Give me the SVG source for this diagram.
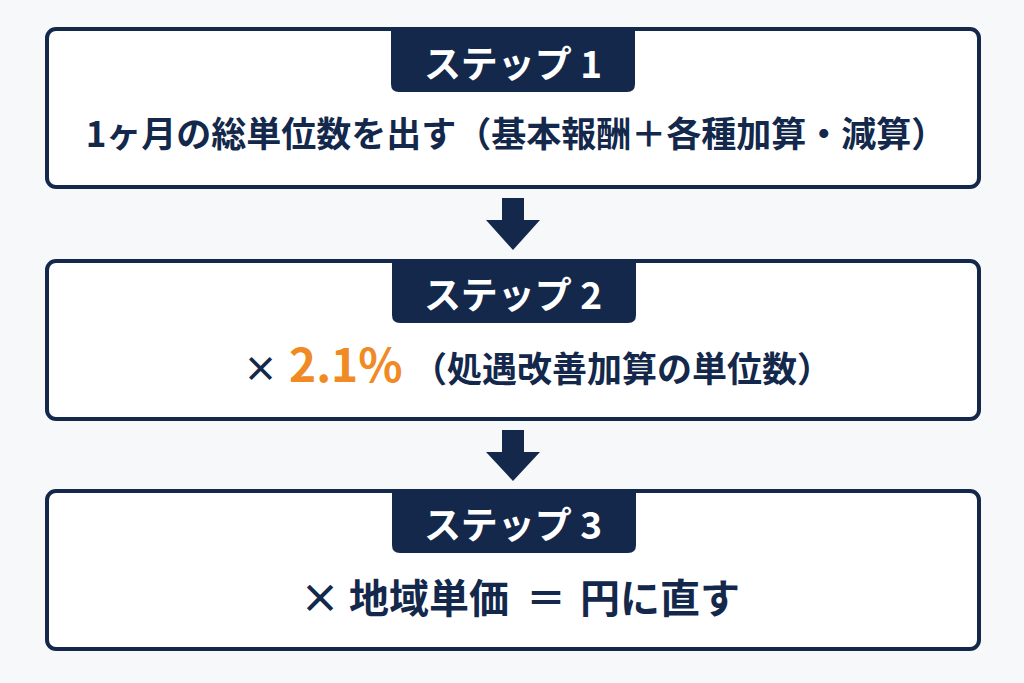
<svg xmlns="http://www.w3.org/2000/svg" width="1024" height="683" viewBox="0 0 1024 683">
<style>
.box{fill:#ffffff;stroke:#13284b;stroke-width:4}
.tab{fill:#13284b}
.tt{font-family:"Noto Sans CJK JP","Noto Sans",sans-serif;font-weight:700;font-size:37px;fill:#ffffff;text-anchor:middle}
.bt{font-family:"Noto Sans CJK JP","Noto Sans",sans-serif;font-weight:700;font-size:35px;fill:#13284b}
.or{fill:#f08a24;font-size:46px}
.arr{fill:#13284b}
</style>
<rect width="1024" height="683" fill="#f7f8fa"/>
<g id="step1">
<rect class="box" x="47" y="29" width="932" height="158" rx="9"/>
<path class="tab" d="M391 29 H635 V84 Q635 92 627 92 H399 Q391 92 391 84 Z"/>
<text class="tt" x="513" y="78">ステップ 1</text>
<text class="bt" x="516" y="147" text-anchor="middle">1ヶ月の総単位数を出す（基本報酬＋各種加算・減算）</text>
</g>
<g id="step2">
<rect class="box" x="47" y="261" width="932" height="158" rx="9"/>
<path class="tab" d="M392 261 H636 V315 Q636 323 628 323 H400 Q392 323 392 315 Z"/>
<text class="tt" x="513" y="309">ステップ 2</text>
<text class="bt" y="382" font-size="36"><tspan x="243">×</tspan><tspan class="or" x="289">2.1%</tspan><tspan x="412">（処遇改善加算の単位数）</tspan></text>
</g>
<g id="step3">
<rect class="box" x="47" y="491" width="932" height="158" rx="9"/>
<path class="tab" d="M392 491 H636 V545 Q636 553 628 553 H400 Q392 553 392 545 Z"/>
<text class="tt" x="513" y="539">ステップ 3</text>
<text class="bt" y="613" style="font-size:40px"><tspan x="300">×</tspan><tspan x="349">地域単価</tspan><tspan x="526">＝</tspan><tspan x="580">円に直す</tspan></text>
</g>
<g id="connectors">
<path class="arr" d="M502 198 H524 V220 H540 L513 250 L486 220 H502 Z"/>
<path class="arr" d="M502 430 H524 V452 H540 L513 481 L486 452 H502 Z"/>
</g>
</svg>
